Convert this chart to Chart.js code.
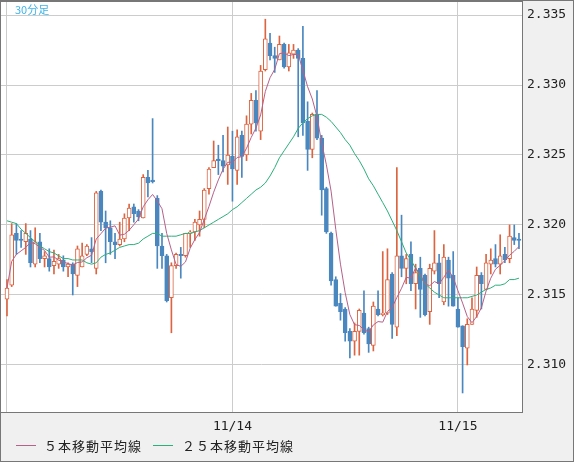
<!DOCTYPE html>
<html><head><meta charset="utf-8">
<script src="https://cdn.jsdelivr.net/npm/chart.js@4/dist/chart.umd.min.js"></script>
<style>
html,body{margin:0;padding:0;background:#f0f0f0;}
#wrap{position:relative;width:574px;height:462px;}
#c{position:absolute;left:0;top:0;}
.lg{position:absolute;top:436px;font:13px "Noto Sans CJK JP",sans-serif;color:#222;letter-spacing:1px;white-space:nowrap;}
.sw{position:absolute;top:445px;height:1px;width:20px;}
#tf{position:absolute;left:15px;top:1px;font:11px "Noto Sans CJK JP",sans-serif;color:#3cb4ea;}
</style></head><body>
<div id="wrap">
<canvas id="c" width="574" height="462"></canvas>
<div id="tf">30分足</div>
<div class="sw" style="left:16px;background:#b5618a"></div>
<div class="lg" style="left:44px">５本移動平均線</div>
<div class="sw" style="left:153px;background:#2bb07a"></div>
<div class="lg" style="left:182px">２５本移動平均線</div>
</div>
<script>
const opens=[2.3147,2.3157,2.3194,2.3190,2.3188,2.3190,2.3172,2.3188,2.3176,2.3176,2.3171,2.3172,2.3175,2.3170,2.3172,2.3164,2.3170,2.3179,2.3183,2.3169,
2.3224,2.3202,2.3198,2.3188,2.3186,2.3190,2.3205,2.3213,2.3210,2.3205,2.3234,2.3232,2.3219,2.3185,2.3178,2.3148,2.3171,2.3179,2.3178,2.3194,
2.3195,2.3200,2.3204,2.3226,2.3241,2.3247,2.3246,2.3243,2.3249,2.3239,2.3264,2.3250,2.3272,2.3289,2.3267,2.3311,2.3330,2.3321,2.3318,2.3329,
2.3313,2.3322,2.3325,2.3319,2.3274,2.3254,2.3279,2.3262,2.3226,2.3194,2.3161,2.3144,2.3140,2.3124,2.3117,2.3124,2.3137,2.3126,2.3114,2.3140,
2.3136,2.3137,2.3165,2.3127,2.3178,2.3169,2.3179,2.3158,2.3169,2.3164,2.3138,2.3167,2.3173,2.3145,2.3175,2.3164,2.3140,2.3128,2.3112,2.3129,
2.3139,2.3164,2.3154,2.3172,2.3176,2.3172,2.3179,2.3176,2.3191,2.3190];
const highs=[2.3161,2.3201,2.3201,2.3196,2.3201,2.3196,2.3198,2.3194,2.3181,2.3183,2.3182,2.3179,2.3178,2.3173,2.3173,2.3185,2.3187,2.3186,2.3191,2.3224,
2.3225,2.3210,2.3203,2.3194,2.3202,2.3208,2.3215,2.3215,2.3211,2.3236,2.3239,2.3276,2.3221,2.3194,2.3179,2.3173,2.3180,2.3184,2.3194,2.3196,
2.3204,2.3210,2.3226,2.3241,2.3260,2.3257,2.3264,2.3270,2.3267,2.3268,2.3267,2.3278,2.3294,2.3296,2.3314,2.3347,2.3337,2.3327,2.3335,2.3330,
2.3329,2.3329,2.3326,2.3342,2.3288,2.3280,2.3296,2.3264,2.3227,2.3195,2.3163,2.3151,2.3141,2.3126,2.3130,2.3140,2.3153,2.3127,2.3145,2.3153,
2.3181,2.3183,2.3166,2.3241,2.3207,2.3179,2.3188,2.3172,2.3177,2.3165,2.3172,2.3196,2.3179,2.3186,2.3177,2.3181,2.3148,2.3128,2.3133,2.3148,
2.3170,2.3166,2.3179,2.3183,2.3186,2.3193,2.3184,2.3200,2.3200,2.3194];
const lows=[2.3135,2.3156,2.3179,2.3184,2.3179,2.3170,2.3170,2.3173,2.3170,2.3167,2.3165,2.3169,2.3167,2.3163,2.3150,2.3156,2.3170,2.3178,2.3173,2.3165,
2.3196,2.3173,2.3179,2.3176,2.3185,2.3188,2.3196,2.3202,2.3203,2.3205,2.3220,2.3230,2.3169,2.3169,2.3145,2.3123,2.3169,2.3162,2.3177,2.3184,
2.3189,2.3192,2.3198,2.3222,2.3241,2.3236,2.3238,2.3229,2.3217,2.3229,2.3234,2.3246,2.3265,2.3267,2.3261,2.3310,2.3318,2.3309,2.3318,2.3312,
2.3310,2.3319,2.3263,2.3264,2.3239,2.3248,2.3261,2.3207,2.3194,2.3157,2.3142,2.3132,2.3117,2.3105,2.3107,2.3107,2.3122,2.3109,2.3110,2.3135,
2.3135,2.3136,2.3119,2.3121,2.3163,2.3158,2.3153,2.3140,2.3134,2.3135,2.3129,2.3165,2.3148,2.3143,2.3142,2.3142,2.3127,2.3080,2.3100,2.3129,
2.3134,2.3140,2.3154,2.3165,2.3170,2.3165,2.3173,2.3173,2.3186,2.3183];
const closes=[2.3155,2.3193,2.3189,2.3189,2.3194,2.3173,2.3188,2.3176,2.3178,2.3170,2.3174,2.3176,2.3170,2.3172,2.3165,2.3183,2.3178,2.3185,2.3181,2.3223,
2.3202,2.3198,2.3188,2.3186,2.3190,2.3205,2.3212,2.3208,2.3206,2.3234,2.3230,2.3231,2.3185,2.3178,2.3146,2.3171,2.3179,2.3178,2.3194,2.3195,
2.3202,2.3204,2.3225,2.3240,2.3246,2.3246,2.3242,2.3250,2.3240,2.3263,2.3249,2.3272,2.3289,2.3273,2.3310,2.3333,2.3321,2.3319,2.3329,2.3313,
2.3323,2.3325,2.3319,2.3273,2.3254,2.3279,2.3262,2.3225,2.3195,2.3160,2.3142,2.3138,2.3123,2.3117,2.3124,2.3139,2.3123,2.3115,2.3142,2.3136,
2.3137,2.3161,2.3129,2.3178,2.3169,2.3176,2.3158,2.3166,2.3154,2.3136,2.3169,2.3173,2.3158,2.3177,2.3162,2.3142,2.3127,2.3113,2.3129,2.3140,
2.3164,2.3158,2.3173,2.3175,2.3172,2.3178,2.3175,2.3192,2.3189,2.3189];
const ma25=[2.3203,2.3202,2.3201,2.3197,2.3194,2.3191,2.3188,2.3185,2.3183,2.3181,2.3180,2.3178,2.3176,2.3176,2.3175,2.3175,2.3175,2.3173,2.3172,2.3173,
2.3177,2.3179,2.3180,2.3182,2.3184,2.3185,2.3186,2.3186,2.3187,2.3190,2.3192,2.3194,2.3194,2.3192,2.3192,2.3192,2.3192,2.3193,2.3194,2.3194,
2.3195,2.3196,2.3198,2.3200,2.3202,2.3204,2.3206,2.3208,2.3211,2.3213,2.3216,2.3219,2.3222,2.3225,2.3227,2.3230,2.3235,2.3241,2.3248,2.3253,
2.3258,2.3263,2.3269,2.3273,2.3276,2.3278,2.3279,2.3279,2.3277,2.3274,2.3270,2.3266,2.3261,2.3257,2.3251,2.3246,2.3240,2.3233,2.3228,2.3222,
2.3216,2.3210,2.3203,2.3196,2.3188,2.3180,2.3175,2.3169,2.3163,2.3158,2.3155,2.3152,2.3150,2.3148,2.3148,2.3148,2.3148,2.3148,2.3148,2.3149,
2.3150,2.3152,2.3154,2.3155,2.3157,2.3157,2.3158,2.3161,2.3161,2.3162];
const yTicks=[2.310,2.315,2.320,2.325,2.330,2.335];
const xTickIdx=[0,48,96];
const xTickLabels=["","11/14","11/15"];

const UP='#dc6440', DN='#4a87bf';
const ma5=closes.map((c,i)=>{const s=closes.slice(Math.max(0,i-4),i+1);return s.reduce((a,b)=>a+b,0)/s.length;});
const up=closes.map((c,i)=>c>=opens[i]);
const wick=closes.map((c,i)=>({x:i,y:[lows[i],highs[i]]}));
const body=closes.map((c,i)=>({x:i,y:[opens[i],c===opens[i]?c+0.00003:c]}));

const frame={id:'frame',
 beforeDraw(ch){const g=ch.ctx,a=ch.chartArea;g.save();g.fillStyle='#f0f0f0';g.fillRect(0,0,ch.width,ch.height);
  g.fillStyle='#fff';g.fillRect(a.left,a.top,a.right-a.left,a.bottom-a.top);g.restore();},
 afterDraw(ch){const g=ch.ctx,a=ch.chartArea;g.save();g.strokeStyle='#777';g.lineWidth=1;
  g.strokeRect(a.left+0.5,a.top-0.5,a.right-a.left-1,a.bottom-a.top+1);
  g.strokeRect(0.5,0.5,ch.width-1,ch.height-1);g.restore();}};

new Chart(document.getElementById('c'),{
 type:'bar',
 data:{datasets:[
  {type:'line',data:ma5.map((v,i)=>({x:i,y:v})),borderColor:'#b5618a',borderWidth:1,pointRadius:0,order:0,tension:0},
  {type:'line',data:ma25.map((v,i)=>({x:i,y:v})),borderColor:'#2bb07a',borderWidth:1,pointRadius:0,order:0,tension:0},
  {data:body,backgroundColor:up.map(u=>u?'#ffffff':DN),borderColor:up.map(u=>u?UP:DN),borderWidth:1,borderSkipped:false,barThickness:4,grouped:false,order:1},
  {data:wick,backgroundColor:up.map(u=>u?UP:DN),borderWidth:0,barThickness:1,grouped:false,order:2}
 ]},
 options:{responsive:false,animation:false,devicePixelRatio:1,
  layout:{padding:{left:0,top:2,right:0,bottom:0}},
  plugins:{legend:{display:false},tooltip:{enabled:false}},
  scales:{
   x:{type:'linear',min:-1.49,max:109.86,offset:false,
    afterBuildTicks:s=>{s.ticks=xTickIdx.map(v=>({value:v}));},
    afterFit:s=>{s.height=50;s.paddingLeft=0;s.paddingRight=0;},
    grid:{color:'#cccccc',drawTicks:false,offset:false},border:{display:false},
    ticks:{padding:7,autoSkip:false,maxRotation:0,color:'#222',font:{family:'DejaVu Sans Mono',size:13},
     callback:v=>xTickLabels[xTickIdx.indexOf(v)]}},
   y:{position:'right',min:2.30664,max:2.33593,
    afterBuildTicks:s=>{s.ticks=yTicks.map(v=>({value:v}));},
    afterFit:s=>{s.width=51;s.paddingTop=0;s.paddingBottom=0;},
    grid:{color:'#cccccc',drawTicks:false},border:{display:false},
    ticks:{padding:4,color:'#222',font:{family:'DejaVu Sans Mono',size:13},callback:v=>v.toFixed(3)}}
  }},
 plugins:[frame]
});
</script></body></html>
